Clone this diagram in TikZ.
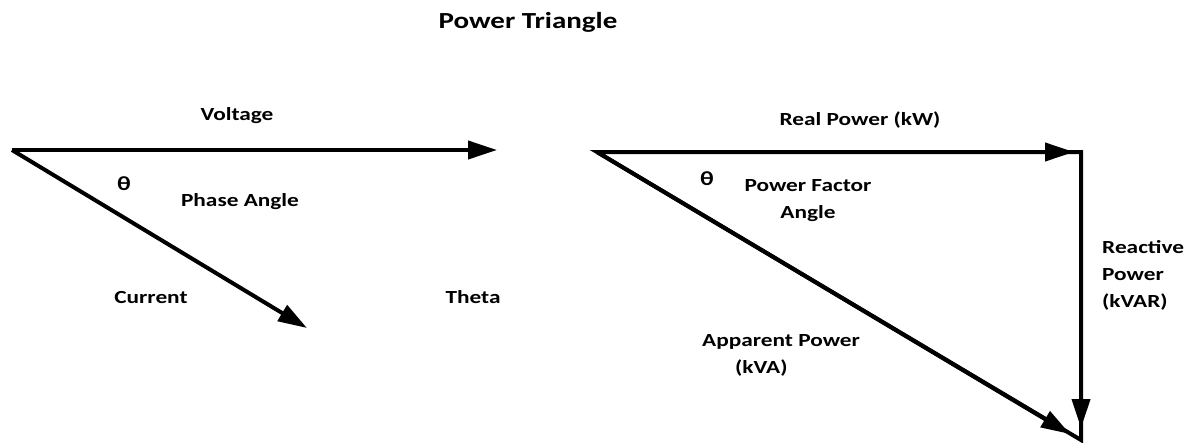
\documentclass[tikz,border=0pt]{standalone}
\usepackage{fontspec}
\setmainfont{Carlito}[FakeStretch=1.26]
\usepackage{tikz}
\usetikzlibrary{arrows.meta,positioning}

\begin{document}
\begin{tikzpicture}[
    x=1pt, y=-1pt,
    lbl/.style={font=\fontsize{18.5}{27}\selectfont\bfseries, inner sep=0pt, align=center},
    ttl/.style={font=\fontsize{23}{28}\selectfont\bfseries, inner sep=0pt},
    vec/.style={-{Triangle[length=29pt, width=18pt]}, line width=4pt},
    seg/.style={line width=4pt, line join=miter}
]
    \useasboundingbox (0,0) rectangle (1190,442);
    \node [ttl] (title) at (528,22) {Power Triangle};

    % phasor diagram
    \coordinate (o1) at (12,150);
    \coordinate (v1) at (497,150);
    \coordinate (i1) at (307,328);
    \draw [vec] (o1) -- (v1);
    \draw [vec] (o1) -- (i1);

    \node [lbl] (volt) at (237,116) {Voltage};
    \node [lbl, font=\fontsize{20}{24}\selectfont\bfseries] (th1) at (124,184) {θ};
    \node [lbl] (phase) at (240,202) {Phase Angle};
    \node [lbl] (curr) at (151,297) {Current};
    \node [lbl] (theta) at (473,297) {Theta};

    % power triangle
    \coordinate (o2) at (597,152);
    \coordinate (c2) at (1081,152);
    \coordinate (e2) at (1081,440);
    \coordinate (t1) at (1074,152);
    \coordinate (t2) at (1081,428);
    \coordinate (t3) at (1070,434);
    \draw [seg] (o2) -- (c2) -- (e2) -- cycle;
    \draw [vec] (o2) -- (t1);
    \draw [vec] (c2) -- (t2);
    \draw [vec] (o2) -- (t3);

    \node [lbl] (real) at (860,120) {Real Power (kW)};
    \node [lbl, font=\fontsize{20}{24}\selectfont\bfseries] (th2) at (707,179) {θ};
    \node [lbl] (pfa) at (808,201) {Power Factor\\Angle};
    \node [lbl, align=left, anchor=west] (react) at (1102,275) {Reactive\\Power\\(kVAR)};
    \node [lbl, align=left, anchor=west] (appar) at (702,355) {Apparent Power\\\hspace*{33pt}(kVA)};
\end{tikzpicture}
\end{document}
